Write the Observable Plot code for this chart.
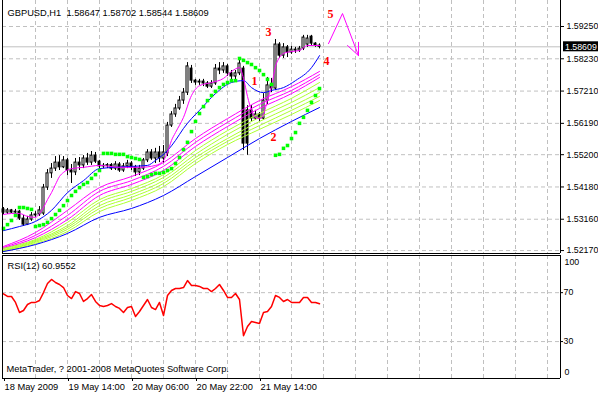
<!DOCTYPE html>
<html><head><meta charset="utf-8">
<script src="https://cdn.jsdelivr.net/npm/d3@7"></script>
<script src="https://cdn.jsdelivr.net/npm/@observablehq/plot@0.6"></script>
<style>
html,body{margin:0;padding:0;background:#fff;}
#chart{position:relative;width:598px;height:395px;overflow:hidden;background:#fff;}
#chart svg{display:block;}
svg text{white-space:pre;}
</style></head><body><div id="chart"></div>
<script>
// ---- data (GBPUSD H1, one bar per hour) ----
const symbol = "GBPUSD", period = "H1";
const open  = [1.5347,1.5337,1.5344,1.5337,1.5340,1.5318,1.5299,1.5315,1.5328,1.5331,
               1.5334,1.5416,1.5461,1.5476,1.5495,1.5480,1.5502,1.5470,1.5464,1.5495,
               1.5486,1.5508,1.5495,1.5517,1.5498,1.5483,1.5485,1.5487,1.5476,1.5489,
               1.5470,1.5483,1.5492,1.5480,1.5464,1.5476,1.5502,1.5527,1.5508,1.5527,
               1.5508,1.5524,1.5612,1.5647,1.5666,1.5691,1.5716,1.5792,1.5754,1.5748,
               1.5751,1.5745,1.5735,1.5745,1.5792,1.5786,1.5799,1.5777,1.5767,1.5777,
               1.5792,1.5660,1.5660,1.5634,1.5647,1.5634,1.5691,1.5739,1.5729,1.5868,
               1.5833,1.5859,1.5843,1.5852,1.5849,1.5855,1.5868,1.5893,1.5871,1.58647];
const high  = [1.5353,1.5350,1.5347,1.5347,1.5344,1.5328,1.5325,1.5337,1.5340,1.5356,
               1.5426,1.5473,1.5492,1.5514,1.5517,1.5514,1.5508,1.5489,1.5508,1.5511,
               1.5517,1.5524,1.5530,1.5527,1.5502,1.5492,1.5492,1.5492,1.5498,1.5495,
               1.5492,1.5502,1.5498,1.5486,1.5486,1.5508,1.5536,1.5536,1.5540,1.5546,
               1.5549,1.5622,1.5656,1.5679,1.5704,1.5729,1.5811,1.5802,1.5758,1.5758,
               1.5758,1.5751,1.5754,1.5805,1.5811,1.5811,1.5805,1.5786,1.5786,1.5818,
               1.5799,1.5675,1.5675,1.5660,1.5653,1.5713,1.5764,1.5761,1.5884,1.5874,
               1.5871,1.5865,1.5862,1.5859,1.5862,1.5897,1.5897,1.5897,1.5874,1.58702];
const low   = [1.5331,1.5331,1.5334,1.5331,1.5312,1.5293,1.5296,1.5309,1.5322,1.5325,
               1.5328,1.5407,1.5445,1.5467,1.5470,1.5476,1.5454,1.5429,1.5454,1.5470,
               1.5476,1.5486,1.5486,1.5492,1.5476,1.5476,1.5476,1.5470,1.5470,1.5464,
               1.5464,1.5476,1.5470,1.5451,1.5454,1.5470,1.5495,1.5502,1.5492,1.5495,
               1.5492,1.5514,1.5606,1.5638,1.5660,1.5679,1.5707,1.5745,1.5739,1.5739,
               1.5735,1.5729,1.5729,1.5739,1.5773,1.5777,1.5767,1.5754,1.5754,1.5770,
               1.5533,1.5518,1.5625,1.5628,1.5625,1.5628,1.5679,1.5716,1.5723,1.5824,
               1.5824,1.5827,1.5837,1.5840,1.5843,1.5849,1.5859,1.5862,1.5859,1.58544];
const close = [1.5337,1.5344,1.5337,1.5340,1.5318,1.5299,1.5315,1.5328,1.5331,1.5344,
               1.5416,1.5461,1.5476,1.5495,1.5480,1.5502,1.5470,1.5464,1.5495,1.5486,
               1.5508,1.5495,1.5517,1.5498,1.5483,1.5485,1.5487,1.5476,1.5489,1.5470,
               1.5483,1.5492,1.5480,1.5464,1.5476,1.5502,1.5527,1.5508,1.5527,1.5508,
               1.5527,1.5612,1.5647,1.5666,1.5691,1.5716,1.5799,1.5754,1.5748,1.5751,
               1.5745,1.5735,1.5745,1.5792,1.5786,1.5799,1.5777,1.5767,1.5777,1.5808,
               1.5555,1.5555,1.5634,1.5647,1.5634,1.5691,1.5739,1.5729,1.5868,1.5833,
               1.5859,1.5843,1.5852,1.5849,1.5855,1.5890,1.5887,1.5871,1.5865,1.58609];

// moving-average ribbon, sampled every 8 bars
const ribbonBars = [0, 8, 16, 24, 32, 40, 48, 56, 64, 72, 79];
const ribbonM1 = [1.5230,1.5274,1.5344,1.5416,1.5451,1.5495,1.5571,1.5634,1.5691,1.5735,1.5783];
const ribbonM2 = [1.5227,1.5265,1.5328,1.5404,1.5438,1.5483,1.5559,1.5622,1.5679,1.5723,1.5773];
const ribbonM3 = [1.5224,1.5258,1.5315,1.5391,1.5426,1.5470,1.5546,1.5609,1.5666,1.5713,1.5764];
const ribbonG1 = [1.5224,1.5252,1.5306,1.5378,1.5413,1.5457,1.5533,1.5596,1.5650,1.5698,1.5748];
const ribbonG2 = [1.5220,1.5249,1.5296,1.5369,1.5404,1.5448,1.5521,1.5584,1.5638,1.5685,1.5732];
const ribbonG3 = [1.5217,1.5246,1.5290,1.5359,1.5394,1.5438,1.5511,1.5571,1.5625,1.5672,1.5716];
const ribbonG4 = [1.5217,1.5243,1.5284,1.5350,1.5385,1.5429,1.5502,1.5562,1.5612,1.5660,1.5704];
const ribbonG5 = [1.5214,1.5239,1.5277,1.5340,1.5375,1.5419,1.5492,1.5552,1.5600,1.5647,1.5691];
const slowBlue = [1.5214,1.5236,1.5271,1.5322,1.5350,1.5391,1.5451,1.5511,1.5571,1.5625,1.5669];

const midBlueBars = [0,4,8,12,16,20,24,28,32,36,38,41,43,45,47,49,53,57,60,62,65,67,70,73,77,79];
const midBlue = [1.5280,1.5293,1.5309,1.5344,1.5400,1.5438,1.5476,1.5480,1.5483,1.5486,
                 1.5502,1.5533,1.5565,1.5603,1.5634,1.5660,1.5713,1.5748,1.5754,1.5732,
                 1.5716,1.5723,1.5732,1.5754,1.5795,1.5833];

const fastBars = [0,2,4,6,8,9,10,11,12,13,14,15,17,20,24,29,34,38,40,41,42,43,45,47,49,52,55,57,59,60,
                  61,62,63,64,65,66,67,68,69,70,72,74,76,79];
const fastMagenta = [1.5331,1.5334,1.5334,1.5325,1.5322,1.5334,1.5353,1.5378,1.5400,1.5426,
                     1.5451,1.5464,1.5476,1.5480,1.5486,1.5480,1.5480,1.5486,1.5502,1.5527,
                     1.5565,1.5590,1.5638,1.5707,1.5738,1.5748,1.5761,1.5783,1.5795,1.5761,
                     1.5704,1.5660,1.5638,1.5634,1.5647,1.5694,1.5735,1.5799,1.5827,1.5840,
                     1.5846,1.5849,1.5865,1.5865];

// Parabolic SAR, one value per bar
const sar = [1.5287,1.5299,1.5312,1.5328,1.5353,1.5353,1.5350,1.5347,1.5293,1.5296,
             1.5299,1.5306,1.5318,1.5331,1.5344,1.5359,1.5375,1.5391,1.5404,1.5416,
             1.5426,1.5432,1.5445,1.5457,1.5470,1.5524,1.5524,1.5524,1.5521,1.5521,
             1.5521,1.5514,1.5511,1.5508,1.5505,1.5448,1.5451,1.5457,1.5461,1.5461,
             1.5464,1.5470,1.5476,1.5492,1.5511,1.5536,1.5559,1.5593,1.5625,1.5650,
             1.5672,1.5691,1.5707,1.5720,1.5732,1.5742,1.5748,1.5754,1.5754,1.5824,
             1.5818,1.5811,1.5805,1.5795,1.5786,1.5773,1.5758,1.5742,1.5518,1.5521,
             1.5540,1.5549,1.5571,1.5590,1.5619,1.5638,1.5660,1.5685,1.5707,1.5729];

// RSI(12), one value per bar
const rsiPeriod = 12;
const rsi = [69.1,66.9,66.9,62.0,53.8,55.4,60.3,62.0,62.0,63.6,
             70.1,77.5,80.8,78.3,76.7,74.2,67.7,65.2,70.9,69.3,
             62.8,65.2,68.5,62.8,59.5,58.7,59.5,61.1,58.7,57.1,
             53.8,57.9,58.7,50.5,54.6,59.5,64.4,57.9,56.2,62.0,
             51.3,67.7,71.8,73.4,73.4,74.2,79.9,75.9,75.9,75.1,
             73.4,73.4,70.9,73.4,76.7,71.8,66.1,66.1,69.3,64.4,
             34.8,42.3,46.4,45.6,44.8,53.8,54.6,58.7,67.7,66.1,
             62.8,64.4,62.0,62.0,62.0,66.1,66.1,62.0,62.0,60.9552];

// wave annotations
const waveNames  = ["1", "2", "3", "4", "5"];
const waveBars   = [62.75, 67.5, 66.25, 80.75, 81.75];
const wavePrices = [1.5751, 1.5574, 1.5906, 1.5814, 1.5963];
const projBars   = [81.25, 84.75, 88.75];
const projPrices = [1.5871, 1.5966, 1.5833];
const headBars   = [86, 88.75, 88.75];
const headPrices = [1.5865, 1.5833, 1.5875];

// axes
const priceTicks = [1.5925, 1.5823, 1.5721, 1.5619, 1.5520, 1.5418, 1.5316, 1.5217];
const rsiTicks = [70, 30];
const gridBars = [8,16,24,32,40,48,56,64,72,80,88,96,104,112,120,128,136];
const timeTicks = [0, 16, 32, 48, 64];
const timeLabels = ["18 May 2009", "19 May 14:00", "20 May 06:00", "20 May 22:00", "21 May 14:00"];
const copyright = "MetaTrader, ? 2001-2008 MetaQuotes Software Corp.";

// ---- build ----
const bars = open.map((o, i) => ({i, open: o, high: high[i], low: low[i], close: close[i]}));
const last = bars[bars.length - 1];
const f5 = d3.format(".5f");
const titleText = `${symbol},${period}  ${f5(last.open)} ${f5(last.high)} ${f5(last.low)} ${f5(last.close)}`;

const xDomain = [-0.25, 139.25];
const yDomain = [1.520772, 1.60072];
const font = "'Liberation Sans', Arial, sans-serif";
const gridStyle = {stroke: "#c0c0c0", strokeOpacity: 1, strokeDasharray: "4,3"};

const ribbonDefs = [
  ["m1", "#ff00ff", ribbonM1], ["m2", "#ff00ff", ribbonM2], ["m3", "#ff00ff", ribbonM3],
  ["g1", "#adff2f", ribbonG1], ["g2", "#adff2f", ribbonG2], ["g3", "#adff2f", ribbonG3],
  ["g4", "#adff2f", ribbonG4], ["g5", "#adff2f", ribbonG5], ["slow", "#0000ff", slowBlue]
];
const ribbonData = ribbonDefs.flatMap(([name, color, vals]) =>
  ribbonBars.map((b, k) => ({i: b, p: vals[k], name, color})));
const midData = midBlueBars.map((b, k) => ({i: b, p: midBlue[k]}));
const fastData = fastBars.map((b, k) => ({i: b, p: fastMagenta[k]}));
const sarData = sar.map((p, i) => ({i, p}));
const waveData = waveNames.map((n, k) => ({n, i: waveBars[k], p: wavePrices[k]}));
const projData = projBars.map((b, k) => ({i: b, p: projPrices[k]}));
const headData = headBars.map((b, k) => ({i: b, p: headPrices[k]}));
const pxPrice = (yDomain[1] - yDomain[0]) / 253;
const axisFont = 8.8;

const main = Plot.plot({
  width: 598, height: 254,
  marginLeft: 2, marginRight: 38, marginTop: 0, marginBottom: 1,
  x: {domain: xDomain, axis: null},
  y: {domain: yDomain},
  color: {type: "identity"},
  style: {fontFamily: font, fontSize: "9.3px", background: "white", color: "black"},
  marks: [
    Plot.gridX(gridBars, gridStyle),
    Plot.gridY(priceTicks, gridStyle),
    Plot.ruleY([last.close], {stroke: "#c0c0c0"}),
    Plot.ruleX(bars, {x: "i", y1: "low", y2: "high", stroke: "black"}),
    Plot.rect(bars, {x1: d => d.i - 0.25, x2: d => d.i + 0.25, y1: "open", y2: "close",
      fill: d => d.close >= d.open ? "white" : "black", stroke: "black", strokeWidth: 1}),
    Plot.line(ribbonData, {x: "i", y: "p", z: "name", stroke: "color", strokeWidth: 1, curve: "monotone-x"}),
    Plot.line(midData, {x: "i", y: "p", stroke: "#0000ff", strokeWidth: 1, curve: "monotone-x"}),
    Plot.line(fastData, {x: "i", y: "p", stroke: "#ff00ff", strokeWidth: 1, curve: "monotone-x"}),
    Plot.dot(sarData, {x: "i", y: "p", symbol: "square", r: 2, fill: "#00ff00", stroke: "none"}),
    Plot.line(projData, {x: "i", y: "p", stroke: "#ff00ff", strokeWidth: 1}),
    Plot.line(headData, {x: "i", y: "p", stroke: "#ff00ff", strokeWidth: 1}),
    Plot.text(waveData, {x: "i", y: "p", text: "n", fill: "#ff0000", fontWeight: "bold",
      fontFamily: "'Liberation Serif', 'Times New Roman', serif", fontSize: 12}),
    Plot.ruleX([xDomain[0], xDomain[1]], {stroke: "black"}),
    Plot.ruleY([yDomain[0]], {stroke: "black"}),
    Plot.axisY(priceTicks, {anchor: "right", tickSize: 3, tickPadding: 3, tickFormat: f5, label: null, fontSize: axisFont}),
    Plot.rect([last.close], {x1: xDomain[1] + 0.75, x2: xDomain[1] + 10, y1: d => d - 5 * pxPrice, y2: d => d + 5 * pxPrice, fill: "black"}),
    Plot.text([last.close], {x: xDomain[1] + 0.75, y: d => d, text: f5, fill: "white", textAnchor: "start", dx: 1.5, fontSize: axisFont}),
    Plot.text([titleText], {frameAnchor: "top-left", text: d => d, dx: 5, dy: 15, lineAnchor: "bottom", textAnchor: "start"})
  ]
});

const rsiDomain = [-0.2, 100.4];
const labelMap = new Map(timeTicks.map((t, k) => [t, timeLabels[k]]));
const rsiPlot = Plot.plot({
  width: 598, height: 141,
  marginLeft: 2, marginRight: 38, marginTop: 1, marginBottom: 17,
  x: {domain: xDomain},
  y: {domain: rsiDomain},
  style: {fontFamily: font, fontSize: "9.3px", background: "white", color: "black"},
  marks: [
    Plot.gridX(gridBars, gridStyle),
    Plot.gridY(rsiTicks, gridStyle),
    Plot.line(rsi, {x: (d, i) => i, y: d => d, stroke: "#ff0000", strokeWidth: 1.5}),
    Plot.ruleX([xDomain[0], xDomain[1]], {stroke: "black"}),
    Plot.ruleY([rsiDomain[0], rsiDomain[1]], {stroke: "black"}),
    Plot.axisY(rsiTicks, {anchor: "right", tickSize: 2, tickPadding: 1, tickFormat: d => String(d), label: null, fontSize: axisFont}),
    Plot.text([100], {frameAnchor: "right", y: d => d, text: d => String(d), dx: 4, dy: 6.5, textAnchor: "start", fontSize: axisFont}),
    Plot.text([0], {frameAnchor: "right", y: d => d, text: d => String(d), dx: 4, dy: -6.5, textAnchor: "start", fontSize: axisFont}),
    Plot.axisX(timeTicks, {anchor: "bottom", tickSize: 3, tickPadding: 2, textAnchor: "start", dx: 1, tickFormat: d => labelMap.get(d), label: null}),
    Plot.text([`RSI(${rsiPeriod}) ${rsi[rsi.length - 1].toFixed(4)}`], {frameAnchor: "top-left", text: d => d, dx: 5, dy: 13.5, lineAnchor: "bottom", textAnchor: "start"}),
    Plot.text([copyright], {frameAnchor: "top-left", text: d => d, dx: 4, dy: 116.5, lineAnchor: "bottom", textAnchor: "start"})
  ]
});

const chart = document.getElementById("chart");
chart.appendChild(main);
chart.appendChild(rsiPlot);
</script></body></html>
